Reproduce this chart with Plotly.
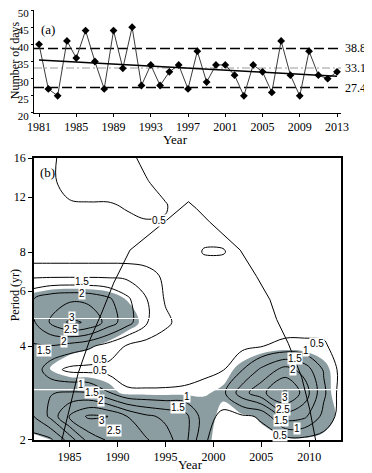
import numpy as np
import plotly.graph_objects as go

# ---------------- data: panel (a) ----------------
years = list(range(1981, 2014))
days = [40, 27, 25, 41, 36, 44, 35, 27, 44, 33, 45, 28, 34, 28, 32, 34, 27,
        38, 29, 34, 34, 31, 25, 34, 32, 26, 41, 31, 25, 38, 31, 30, 32]
ref_levels = [38.8, 33.1, 27.4]
ref_labels = ["38.8", "33.1", "27.4"]
top_ticks = list(range(1981, 2014, 4))
day_ticks = [20, 25, 30, 35, 40, 45, 50]

# ---------------- data: panel (b) wavelet power ----------------
grid_years = [1981, 1983, 1985, 1987, 1989, 1991, 1993, 1995, 1997, 1999,
              2001, 2003, 2005, 2007.5, 2009.5, 2011.5, 2013.5]
grid_periods = [2, 2.38, 2.83, 3.36, 4, 4.76, 5.66, 6.73, 8, 9.51, 11.31, 13.45, 16]

pw_p2_00 = [0.30, 0.40, 1.20, 2.20, 2.55, 2.60, 2.55, 2.20, 1.70, 0.55, 0.30, 0.30, 0.35, 0.30, 0.35, 0.30, 0.15]
pw_p2_38 = [0.90, 1.60, 2.60, 3.08, 3.02, 2.50, 2.10, 1.90, 1.70, 0.75, 0.35, 0.42, 0.55, 1.75, 1.60, 0.85, 0.25]
pw_p2_83 = [1.35, 1.48, 1.55, 1.52, 1.05, 0.57, 0.56, 0.56, 0.58, 0.68, 0.88, 1.80, 2.35, 3.10, 2.30, 1.10, 0.20]
pw_p3_36 = [1.40, 0.70, 0.38, 0.35, 0.35, 0.30, 0.28, 0.30, 0.33, 0.38, 0.48, 0.98, 1.60, 2.20, 1.80, 0.95, 0.30]
pw_p4_00 = [1.45, 1.48, 1.30, 1.10, 0.80, 0.45, 0.30, 0.25, 0.22, 0.25, 0.30, 0.38, 0.48, 0.60, 0.60, 0.58, 0.20]
pw_p4_76 = [1.85, 2.55, 3.08, 2.95, 2.30, 1.70, 1.05, 0.60, 0.30, 0.25, 0.22, 0.22, 0.25, 0.30, 0.30, 0.28, 0.20]
pw_p5_66 = [1.95, 2.30, 2.40, 2.35, 2.10, 1.60, 1.02, 0.45, 0.30, 0.25, 0.22, 0.22, 0.22, 0.22, 0.22, 0.22, 0.20]
pw_p6_73 = [0.88, 0.88, 0.88, 0.88, 0.88, 0.86, 0.70, 0.40, 0.25, 0.25, 0.25, 0.22, 0.22, 0.20, 0.20, 0.20, 0.20]
pw_p8_00 = [0.15, 0.15, 0.15, 0.15, 0.15, 0.15, 0.18, 0.22, 0.25, 0.53, 0.53, 0.30, 0.25, 0.22, 0.20, 0.20, 0.20]
pw_p9_51 = [0.35, 0.38, 0.42, 0.43, 0.44, 0.44, 0.46, 0.47, 0.40, 0.35, 0.33, 0.30, 0.28, 0.25, 0.22, 0.20, 0.20]
pw_p11_3 = [0.40, 0.42, 0.47, 0.48, 0.48, 0.52, 0.56, 0.52, 0.35, 0.30, 0.30, 0.28, 0.26, 0.25, 0.25, 0.25, 0.25]
pw_p13_5 = [0.40, 0.45, 0.60, 0.63, 0.63, 0.60, 0.52, 0.38, 0.30, 0.28, 0.26, 0.25, 0.25, 0.25, 0.25, 0.25, 0.25]
pw_p16_0 = [0.40, 0.45, 0.60, 0.62, 0.62, 0.58, 0.42, 0.30, 0.28, 0.26, 0.25, 0.25, 0.25, 0.25, 0.25, 0.25, 0.25]

# significance level (power units) for each period row
sig_level = [0.45, 0.5, 0.75, 0.75, 1.0, 1.3, 1.65, 2.2, 2.6, 3.0, 3.3, 3.6, 4.0]

# cone of influence
coi_years = [1984.2, 1985.0, 1985.9, 1987.1, 1988.35, 1989.6, 1991.3, 1994.8, 1997.4,
             1998.2, 1999.6, 2002.8, 2004.5, 2005.9, 2006.6, 2007.8, 2009.2, 2010.05, 2010.65]
coi_periods = [2.0, 2.55, 3.27, 4.17, 5.10, 6.36, 8.11, 9.92, 11.59,
               11.04, 9.99, 8.11, 6.68, 5.62, 4.86, 4.08, 3.18, 2.50, 2.0]

dominant_periods = [2.9, 4.9]

period_ticks = [2, 4, 6, 8, 12, 16]
year_ticks_b = [1985, 1990, 1995, 2000, 2005, 2010]

label_text = ["0.5", "1.5", "2", "3", "2.5", "2", "1.5", "0.5", "0.5", "1", "1.5", "2",
              "3", "2.5", "1", "1.5", "0.5", "1", "1.5", "2", "3", "2.5", "1.5", "1", "0.5"]
label_year = [1994.3, 1986.3, 1986.3, 1985.3, 1985.2, 1984.4, 1982.3, 1988.2, 1988.2, 1986.2, 1987.3, 1988.3,
              1988.35, 1989.6, 1997.2, 1996.3, 2010.75, 2009.6, 2008.5, 2008.3, 2007.45, 2007.3, 2007.0, 2008.7, 2006.9]
label_period = [10.06, 6.42, 5.90, 4.92, 4.52, 4.14, 3.86, 3.63, 3.34, 3.02, 2.83, 2.68,
                2.31, 2.14, 2.75, 2.55, 4.08, 3.86, 3.66, 3.36, 2.73, 2.51, 2.31, 2.18, 2.06]

SERIF = "Liberation Serif"
SANS = "Liberation Sans"
GRAY_FILL = "#8c9da2"

fig = go.Figure()

# ---------------- panel (a) ----------------
fig.add_trace(go.Scatter(
    x=years, y=days, mode="lines+markers",
    line=dict(color="#3a3a3a", width=1),
    marker=dict(symbol="diamond", size=6, color="black"),
    xaxis="x", yaxis="y", hoverinfo="skip"))

coef = np.polyfit(years, days, 1)
trend_x = [years[0], years[-1]]
fig.add_trace(go.Scatter(
    x=trend_x, y=list(np.polyval(coef, trend_x)), mode="lines",
    line=dict(color="black", width=1.6), xaxis="x", yaxis="y", hoverinfo="skip"))

line_styles = [("10px,4px", "black", 1.5), ("8px,3px,2px,3px", "#9a9a9a", 1), ("10px,4px", "black", 1.5)]
for lvl, (dsh, col, w) in zip(ref_levels, line_styles):
    fig.add_shape(type="line", xref="x domain", x0=0, x1=1, yref="y", y0=lvl, y1=lvl,
                  line=dict(color=col, width=w, dash=dsh), layer="below")

annotations = []
for lvl, txt in zip(ref_levels, ref_labels):
    annotations.append(dict(text=txt, xref="paper", yref="y", x=1.006, y=lvl,
                            xanchor="left", yanchor="middle", showarrow=False,
                            font=dict(family=SERIF, size=12, color="black")))

# ---------------- panel (b) ----------------
Lg = np.log2(grid_periods)
Z = np.array([pw_p2_00, pw_p2_38, pw_p2_83, pw_p3_36, pw_p4_00, pw_p4_76, pw_p5_66,
              pw_p6_73, pw_p8_00, pw_p9_51, pw_p11_3, pw_p13_5, pw_p16_0])
ratio = Z / np.array(sig_level)[:, None]

# constraint "<" keeps the region below 1 clear and shades the significant region
fig.add_trace(go.Contour(
    x=grid_years, y=Lg, z=ratio,
    contours=dict(type="constraint", operation="<", value=1),
    fillcolor=GRAY_FILL, line=dict(width=0, color="rgba(0,0,0,0)", smoothing=1),
    showscale=False, xaxis="x2", yaxis="y2", hoverinfo="skip"))

for p in dominant_periods:
    fig.add_trace(go.Scatter(
        x=[grid_years[0], grid_years[-1]], y=[np.log2(p)] * 2, mode="lines",
        line=dict(color="white", width=1.2), xaxis="x2", yaxis="y2", hoverinfo="skip"))

fig.add_trace(go.Contour(
    x=grid_years, y=Lg, z=Z,
    contours=dict(start=0.5, end=3.0, size=0.5, coloring="lines", showlabels=False),
    line=dict(width=1, smoothing=1),
    colorscale=[[0, "black"], [1, "black"]], showscale=False,
    xaxis="x2", yaxis="y2", hoverinfo="skip"))

fig.add_trace(go.Scatter(
    x=coi_years, y=list(np.log2(coi_periods)), mode="lines",
    line=dict(color="black", width=1), xaxis="x2", yaxis="y2", hoverinfo="skip"))

for t, yr, p in zip(label_text, label_year, label_period):
    annotations.append(dict(text=t, x=yr, y=float(np.log2(p)), xref="x2", yref="y2",
                            xanchor="center", yanchor="middle",
                            showarrow=False, bgcolor="white", borderpad=0,
                            font=dict(family=SANS, size=10, color="black")))

# titles and panel letters
annotations += [
    dict(text="Year", xref="paper", yref="paper", x=0.4625, y=0.6977, xanchor="center",
         yanchor="middle", showarrow=False, font=dict(family=SERIF, size=13, color="black")),
    dict(text="Year", xref="paper", yref="paper", x=0.51, y=-0.058, xanchor="center",
         yanchor="middle", showarrow=False, font=dict(family=SERIF, size=13, color="black")),
    dict(text="Number of days", xref="paper", yref="paper", x=-0.061, y=0.884,
         xanchor="center", yanchor="middle", textangle=-90, showarrow=False,
         font=dict(family=SERIF, size=12, color="black")),
    dict(text="Period (yr)", xref="paper", yref="paper", x=-0.061, y=0.337,
         xanchor="center", yanchor="middle", textangle=-90, showarrow=False,
         font=dict(family=SERIF, size=12, color="black")),
    dict(text="(a)", xref="paper", yref="paper", x=0.017, y=0.977, xanchor="left",
         showarrow=False, font=dict(family=SERIF, size=13, color="black")),
    dict(text="(b)", xref="paper", yref="paper", x=0.013, y=0.623, xanchor="left",
         showarrow=False, font=dict(family=SERIF, size=13, color="black")),
]

tickfont = dict(family=SERIF, size=12, color="black")
ytickfont = dict(family=SERIF, size=11, color="black")
# page body adds an 8 px margin, so the figure is 8 px smaller and shifted accordingly
fig.update_layout(
    width=364, height=465, margin=dict(l=26, r=31, t=2, b=33),
    paper_bgcolor="white", plot_bgcolor="white", showlegend=False,
    annotations=annotations,
    xaxis=dict(domain=[0, 1], anchor="y", range=[1980.46, 2013.43], tickvals=top_ticks,
               ticks="outside", ticklen=3, tickcolor="black", showline=True, linecolor="black",
               linewidth=1, showgrid=False, zeroline=False, tickfont=tickfont, automargin=False),
    yaxis=dict(domain=[0.7605, 1], anchor="x", range=[20, 50], tickvals=day_ticks,
               ticks="outside", ticklen=2, tickcolor="black", showline=True, linecolor="black",
               linewidth=1, showgrid=False, zeroline=False, tickfont=ytickfont, automargin=False,
               ticklabeloverflow="allow", ticklabelshift=3),
    xaxis2=dict(domain=[0, 1], anchor="y2", range=[1981.3, 2013.3], tickvals=year_ticks_b,
                ticks="outside", ticklen=5, tickcolor="black", showline=True, mirror=True,
                linecolor="black", linewidth=1.5, showgrid=False, zeroline=False,
                tickfont=tickfont, automargin=False),
    yaxis2=dict(domain=[0, 0.6558], anchor="x2", range=[1, 4],
                tickvals=list(np.log2(period_ticks)), ticktext=[str(p) for p in period_ticks],
                ticks="outside", ticklen=4, tickcolor="black", showline=True, mirror=True,
                linecolor="black", linewidth=1.5, showgrid=False, zeroline=False,
                tickfont=tickfont, automargin=False),
)

fig.write_html("out.html")
